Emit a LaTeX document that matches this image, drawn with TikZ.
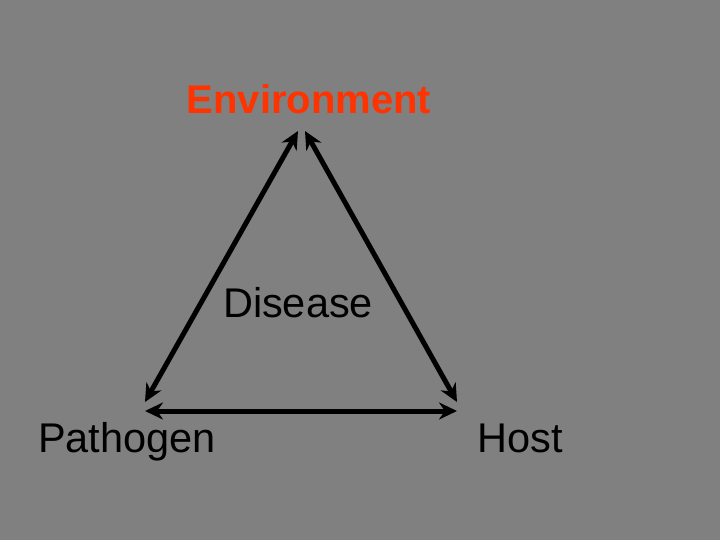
\documentclass[tikz,border=0pt]{standalone}
\usepackage{fontspec}
\setmainfont{Liberation Sans}
\usetikzlibrary{arrows.meta}
\definecolor{bg}{RGB}{128,128,128}
\definecolor{env}{RGB}{255,51,0}
\begin{document}
\begin{tikzpicture}[x=1pt,y=-1pt,
  lbl/.style={inner sep=0pt,anchor=base,font=\fontsize{41.5}{46}\selectfont},
  conn/.style={line width=5pt,{Stealth[length=18pt,width=17pt]}-{Stealth[length=18pt,width=17pt]}}]
\fill[bg] (0,0) rectangle (720,540);
\useasboundingbox (0,0) rectangle (720,540);
\node[lbl,text=env,font=\bfseries\fontsize{40}{44}\selectfont] (env) at (309,114) {Environment};
\node[lbl] (dis) at (298,317) {Disease};
\node[lbl] (pat) at (127,452) {Pathogen};
\node[lbl] (host) at (520,452) {Host};
\coordinate (tl) at (298,131);
\coordinate (tr) at (305,131);
\coordinate (bl) at (145,402);
\coordinate (br) at (457,402);
\coordinate (hl) at (145,411);
\coordinate (hr) at (457,411);
\draw[conn] (bl) -- (tl);
\draw[conn] (tr) -- (br);
\draw[conn] (hl) -- (hr);
\end{tikzpicture}
\end{document}
